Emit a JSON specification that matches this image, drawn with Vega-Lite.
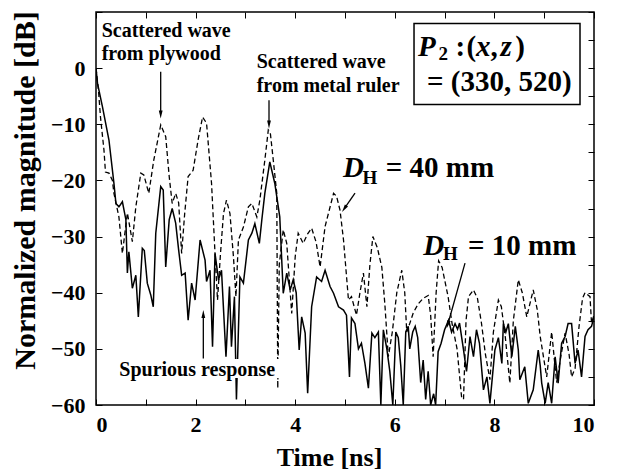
{
  "$schema": "https://vega.github.io/schema/vega-lite/v6.json",
  "width": 498,
  "height": 393,
  "autosize": {"type": "none"},
  "padding": {"left": 96, "top": 12, "right": 28, "bottom": 69},
  "background": "white",
  "config": {
    "view": {"stroke": "black", "strokeWidth": 1.5},
    "axis": {
      "domain": false,
      "grid": false,
      "tickColor": "black",
      "tickWidth": 1,
      "tickSize": -6,
      "labelFont": "Liberation Serif",
      "labelFontWeight": "bold",
      "labelFontSize": 22,
      "labelColor": "black",
      "titleFont": "Liberation Serif",
      "titleFontWeight": "bold",
      "titleColor": "black"
    }
  },
  "datasets": {
    "d40": [
      {"t": 0, "db": 0}, {"t": 0.05, "db": -4}, {"t": 0.09, "db": -8.7}, {"t": 0.16, "db": -14.6}, {"t": 0.19, "db": -18.5},
      {"t": 0.26, "db": -18.7}, {"t": 0.33, "db": -20}, {"t": 0.36, "db": -22.3}, {"t": 0.46, "db": -26.5}, {"t": 0.53, "db": -33},
      {"t": 0.63, "db": -25.8}, {"t": 0.73, "db": -30.9}, {"t": 0.8, "db": -24.7}, {"t": 0.9, "db": -18.7}, {"t": 0.96, "db": -19},
      {"t": 1.06, "db": -22.3}, {"t": 1.16, "db": -16.4}, {"t": 1.3, "db": -10.1}, {"t": 1.4, "db": -12.2}, {"t": 1.47, "db": -19.3},
      {"t": 1.53, "db": -24.1}, {"t": 1.6, "db": -22.3}, {"t": 1.66, "db": -24}, {"t": 1.72, "db": -33}, {"t": 1.78, "db": -26},
      {"t": 1.85, "db": -19.3}, {"t": 1.95, "db": -18.2}, {"t": 2.05, "db": -12.8}, {"t": 2.14, "db": -8.7}, {"t": 2.22, "db": -9.8},
      {"t": 2.32, "db": -20.5}, {"t": 2.39, "db": -33}, {"t": 2.44, "db": -41.3}, {"t": 2.5, "db": -33}, {"t": 2.56, "db": -25.9},
      {"t": 2.62, "db": -23.5}, {"t": 2.69, "db": -25.9}, {"t": 2.76, "db": -33.6}, {"t": 2.81, "db": -40.7}, {"t": 2.86, "db": -30.6},
      {"t": 2.96, "db": -28.3}, {"t": 3.06, "db": -24.7}, {"t": 3.13, "db": -24.1}, {"t": 3.23, "db": -26.5}, {"t": 3.29, "db": -23.5},
      {"t": 3.39, "db": -16.4}, {"t": 3.46, "db": -11}, {"t": 3.5, "db": -11.5}, {"t": 3.56, "db": -16.4}, {"t": 3.63, "db": -22.3},
      {"t": 3.65, "db": -57}, {"t": 3.68, "db": -35}, {"t": 3.76, "db": -28.8}, {"t": 3.83, "db": -31.2}, {"t": 3.93, "db": -43.7},
      {"t": 4.0, "db": -33.6}, {"t": 4.06, "db": -29.4}, {"t": 4.16, "db": -31.2}, {"t": 4.25, "db": -29.5}, {"t": 4.33, "db": -28.5},
      {"t": 4.42, "db": -31}, {"t": 4.5, "db": -35.4}, {"t": 4.6, "db": -28.2}, {"t": 4.77, "db": -22.3}, {"t": 4.83, "db": -22.8},
      {"t": 4.9, "db": -25.3}, {"t": 4.97, "db": -30.6}, {"t": 5.07, "db": -41.3}, {"t": 5.13, "db": -40.7}, {"t": 5.23, "db": -44},
      {"t": 5.3, "db": -40}, {"t": 5.37, "db": -36.5}, {"t": 5.44, "db": -42.5}, {"t": 5.5, "db": -35}, {"t": 5.56, "db": -30},
      {"t": 5.65, "db": -32}, {"t": 5.74, "db": -35.5}, {"t": 5.8, "db": -42}, {"t": 5.87, "db": -51.4}, {"t": 5.95, "db": -47},
      {"t": 6.04, "db": -40}, {"t": 6.14, "db": -36}, {"t": 6.2, "db": -40}, {"t": 6.24, "db": -47}, {"t": 6.3, "db": -45.5},
      {"t": 6.37, "db": -43.6}, {"t": 6.47, "db": -42}, {"t": 6.57, "db": -41}, {"t": 6.67, "db": -40.5}, {"t": 6.72, "db": -44},
      {"t": 6.77, "db": -51.4}, {"t": 6.83, "db": -40}, {"t": 6.88, "db": -34.3}, {"t": 6.95, "db": -35.5}, {"t": 7.07, "db": -40.7},
      {"t": 7.15, "db": -45.5}, {"t": 7.25, "db": -50}, {"t": 7.34, "db": -58.5}, {"t": 7.38, "db": -59}, {"t": 7.43, "db": -45},
      {"t": 7.48, "db": -40.7}, {"t": 7.58, "db": -39.5}, {"t": 7.66, "db": -41}, {"t": 7.74, "db": -45.4}, {"t": 7.82, "db": -51},
      {"t": 7.91, "db": -55.5}, {"t": 7.98, "db": -47}, {"t": 8.08, "db": -41.3}, {"t": 8.14, "db": -42.5}, {"t": 8.22, "db": -48},
      {"t": 8.31, "db": -56.1}, {"t": 8.38, "db": -45}, {"t": 8.48, "db": -37.7}, {"t": 8.56, "db": -40}, {"t": 8.65, "db": -44.3},
      {"t": 8.78, "db": -39.5}, {"t": 8.86, "db": -43}, {"t": 8.92, "db": -47.8}, {"t": 9.05, "db": -55}, {"t": 9.15, "db": -47},
      {"t": 9.25, "db": -56}, {"t": 9.34, "db": -51}, {"t": 9.42, "db": -47.2}, {"t": 9.5, "db": -51}, {"t": 9.55, "db": -55},
      {"t": 9.62, "db": -53.5}, {"t": 9.7, "db": -46}, {"t": 9.77, "db": -41}, {"t": 9.82, "db": -40}, {"t": 9.92, "db": -40.7},
      {"t": 9.95, "db": -45.4}, {"t": 10, "db": -44}
    ],
    "d10": [
      {"t": 0, "db": 0}, {"t": 0.03, "db": -2.7}, {"t": 0.13, "db": -6.9}, {"t": 0.26, "db": -12.8}, {"t": 0.36, "db": -20.5},
      {"t": 0.4, "db": -24.1}, {"t": 0.46, "db": -24.7}, {"t": 0.53, "db": -23.8}, {"t": 0.6, "db": -27}, {"t": 0.63, "db": -36.5},
      {"t": 0.66, "db": -32.7}, {"t": 0.73, "db": -39.2}, {"t": 0.8, "db": -36.9}, {"t": 0.85, "db": -44.3}, {"t": 0.93, "db": -32.1},
      {"t": 0.97, "db": -32.5}, {"t": 1.03, "db": -38.3}, {"t": 1.1, "db": -40.4}, {"t": 1.15, "db": -42.5}, {"t": 1.2, "db": -29.4},
      {"t": 1.3, "db": -21.1}, {"t": 1.35, "db": -21.7}, {"t": 1.4, "db": -35.4}, {"t": 1.47, "db": -27}, {"t": 1.53, "db": -25},
      {"t": 1.6, "db": -27.6}, {"t": 1.66, "db": -32.4}, {"t": 1.72, "db": -36.9}, {"t": 1.79, "db": -36.5}, {"t": 1.85, "db": -44.9},
      {"t": 1.92, "db": -38.3}, {"t": 1.99, "db": -41.3}, {"t": 2.09, "db": -30.6}, {"t": 2.19, "db": -34.2}, {"t": 2.22, "db": -38},
      {"t": 2.29, "db": -36}, {"t": 2.34, "db": -49.6}, {"t": 2.39, "db": -33}, {"t": 2.46, "db": -37.7}, {"t": 2.52, "db": -36},
      {"t": 2.61, "db": -51.4}, {"t": 2.68, "db": -38.9}, {"t": 2.72, "db": -49.6}, {"t": 2.78, "db": -40.7}, {"t": 2.82, "db": -59},
      {"t": 2.89, "db": -37.2}, {"t": 2.96, "db": -38.3}, {"t": 3.06, "db": -30.6}, {"t": 3.13, "db": -29.4}, {"t": 3.19, "db": -27.7},
      {"t": 3.28, "db": -31.2}, {"t": 3.33, "db": -27}, {"t": 3.39, "db": -22.3}, {"t": 3.49, "db": -16.7}, {"t": 3.59, "db": -20.5},
      {"t": 3.69, "db": -26.5}, {"t": 3.76, "db": -40.1}, {"t": 3.83, "db": -36.5}, {"t": 3.9, "db": -39.5}, {"t": 3.96, "db": -37.7},
      {"t": 4.02, "db": -40}, {"t": 4.08, "db": -50.2}, {"t": 4.13, "db": -44.3}, {"t": 4.2, "db": -47.2}, {"t": 4.25, "db": -57.9},
      {"t": 4.33, "db": -42.5}, {"t": 4.43, "db": -37.2}, {"t": 4.53, "db": -38}, {"t": 4.6, "db": -36}, {"t": 4.7, "db": -38.9},
      {"t": 4.77, "db": -40.1}, {"t": 4.87, "db": -42.5}, {"t": 4.97, "db": -43.1}, {"t": 5.03, "db": -44}, {"t": 5.09, "db": -55},
      {"t": 5.13, "db": -44.5}, {"t": 5.2, "db": -45.5}, {"t": 5.27, "db": -50}, {"t": 5.33, "db": -49}, {"t": 5.4, "db": -52.6},
      {"t": 5.47, "db": -57}, {"t": 5.54, "db": -47.2}, {"t": 5.6, "db": -48}, {"t": 5.67, "db": -47}, {"t": 5.72, "db": -60},
      {"t": 5.77, "db": -46.6}, {"t": 5.84, "db": -50}, {"t": 5.9, "db": -54}, {"t": 5.96, "db": -60}, {"t": 6.02, "db": -47},
      {"t": 6.07, "db": -48}, {"t": 6.12, "db": -53}, {"t": 6.17, "db": -60}, {"t": 6.22, "db": -47}, {"t": 6.27, "db": -46},
      {"t": 6.3, "db": -50}, {"t": 6.36, "db": -47}, {"t": 6.41, "db": -46}, {"t": 6.46, "db": -48}, {"t": 6.52, "db": -56},
      {"t": 6.57, "db": -52}, {"t": 6.62, "db": -59}, {"t": 6.67, "db": -54}, {"t": 6.72, "db": -60}, {"t": 6.78, "db": -58},
      {"t": 6.82, "db": -60}, {"t": 6.87, "db": -50.5}, {"t": 6.93, "db": -49}, {"t": 7.0, "db": -46.6}, {"t": 7.08, "db": -44.9},
      {"t": 7.14, "db": -47}, {"t": 7.21, "db": -45.5}, {"t": 7.26, "db": -46.5}, {"t": 7.3, "db": -45.4}, {"t": 7.38, "db": -50.2},
      {"t": 7.44, "db": -54}, {"t": 7.51, "db": -47.8}, {"t": 7.58, "db": -51.4}, {"t": 7.64, "db": -46.6}, {"t": 7.7, "db": -49},
      {"t": 7.78, "db": -57.3}, {"t": 7.85, "db": -55}, {"t": 7.91, "db": -59.7}, {"t": 8.01, "db": -50.2}, {"t": 8.08, "db": -48},
      {"t": 8.15, "db": -52.6}, {"t": 8.18, "db": -45.5}, {"t": 8.23, "db": -47}, {"t": 8.28, "db": -45.5}, {"t": 8.35, "db": -51.4},
      {"t": 8.42, "db": -46}, {"t": 8.48, "db": -50.2}, {"t": 8.51, "db": -55.5}, {"t": 8.61, "db": -53.2}, {"t": 8.68, "db": -59.7},
      {"t": 8.78, "db": -57.3}, {"t": 8.88, "db": -50.2}, {"t": 8.92, "db": -53}, {"t": 8.95, "db": -56.1}, {"t": 9.02, "db": -59.7},
      {"t": 9.08, "db": -56}, {"t": 9.15, "db": -59.7}, {"t": 9.22, "db": -51.4}, {"t": 9.28, "db": -56.1}, {"t": 9.35, "db": -49},
      {"t": 9.42, "db": -47.8}, {"t": 9.48, "db": -45.5}, {"t": 9.55, "db": -45.5}, {"t": 9.62, "db": -52.6}, {"t": 9.68, "db": -50.2},
      {"t": 9.75, "db": -55}, {"t": 9.82, "db": -47.8}, {"t": 9.88, "db": -46.6}, {"t": 9.95, "db": -46}, {"t": 10, "db": -44.3}
    ]
  },
  "layer": [
    {
      "data": {"values": [{"t": 6.386, "t2": 9.719, "db": 7.96, "db2": -6.46}]},
      "mark": {"type": "rect", "fill": "white", "stroke": "black", "strokeWidth": 1.5},
      "encoding": {
        "x": {"field": "t", "type": "quantitative", "scale": {"domain": [0, 10], "nice": false},
              "axis": {"orient": "top", "labels": false, "title": null, "values": [0,1,2,3,4,5,6,7,8,9,10]}},
        "x2": {"field": "t2"},
        "y": {"field": "db", "type": "quantitative", "scale": {"domain": [-60, 10], "nice": false},
              "axis": {"orient": "right", "labels": false, "title": null, "values": [-60,-55,-50,-45,-40,-35,-30,-25,-20,-15,-10,-5,0,5,10]}},
        "y2": {"field": "db2"}
      }
    },
    {
      "layer": [
        {
          "data": {"name": "d40"},
          "mark": {"type": "line", "color": "black", "strokeWidth": 1.3, "strokeDash": [5, 3], "clip": true},
          "encoding": {
            "x": {"field": "t", "type": "quantitative", "scale": {"domain": [0, 10], "nice": false},
                  "axis": {"orient": "bottom", "title": "Time [ns]", "values": [0,1,2,3,4,5,6,7,8,9,10],
                           "labelExpr": "datum.value % 2 == 0 ? datum.label : ''", "labelPadding": 15,
                           "titleFontSize": 26, "titleX": 233, "titleY": 60, "titleBaseline": "alphabetic", "titleAlign": "center"}},
            "y": {"field": "db", "type": "quantitative", "scale": {"domain": [-60, 10], "nice": false},
                  "axis": {"orient": "left", "title": "Normalized magnitude [dB]", "values": [-60,-55,-50,-45,-40,-35,-30,-25,-20,-15,-10,-5,0,5,10],
                           "labelExpr": "datum.value % 10 == 0 && datum.value < 10 ? datum.label : ''", "labelPadding": 17,
                           "titleFontSize": 30, "titleX": -62, "titleY": 178, "titleAngle": 270, "titleBaseline": "alphabetic", "titleAlign": "center"}}
          }
        },
        {
          "data": {"name": "d10"},
          "mark": {"type": "line", "color": "black", "strokeWidth": 1.5, "clip": true},
          "encoding": {
            "x": {"field": "t", "type": "quantitative"},
            "y": {"field": "db", "type": "quantitative"}
          }
        },
        {
          "data": {"values": [{"t": 0.42, "t2": 3.8, "db": -51.8, "db2": -55.2}]},
          "mark": {"type": "rect", "fill": "white"},
          "encoding": {
            "x": {"field": "t", "type": "quantitative"}, "x2": {"field": "t2"},
            "y": {"field": "db", "type": "quantitative"}, "y2": {"field": "db2"}
          }
        },
        {
          "data": {"values": [
            {"t": 0.114, "db": 5.57, "label": "Scattered wave"},
            {"t": 0.114, "db": 1.42, "label": "from plywood"},
            {"t": 3.227, "db": 0, "label": "Scattered wave"},
            {"t": 3.227, "db": -4.27, "label": "from metal ruler"},
            {"t": 0.468, "db": -54.83, "label": "Spurious response"}
          ]},
          "mark": {"type": "text", "font": "Liberation Serif", "fontWeight": "bold", "fontSize": 20, "align": "left", "baseline": "alphabetic", "color": "black"},
          "encoding": {
            "x": {"field": "t", "type": "quantitative"},
            "y": {"field": "db", "type": "quantitative"},
            "text": {"field": "label"}
          }
        },
        {
          "data": {"values": [
            {"t": 7.22, "db": 2.14, "label": ":"},
            {"t": 7.44, "db": 2.14, "label": "("},
            {"t": 7.92, "db": 2.14, "label": ","},
            {"t": 8.42, "db": 2.14, "label": ")"},
            {"t": 6.647, "db": -4.09, "label": "= (330, 520)"},
            {"t": 5.82, "db": -19.41, "label": "= 40 mm"},
            {"t": 7.47, "db": -33.29, "label": "= 10 mm"}
          ]},
          "mark": {"type": "text", "font": "Liberation Serif", "fontWeight": "bold", "fontSize": 29, "align": "left", "baseline": "alphabetic", "color": "black"},
          "encoding": {
            "x": {"field": "t", "type": "quantitative"},
            "y": {"field": "db", "type": "quantitative"},
            "text": {"field": "label"}
          }
        },
        {
          "data": {"values": [
            {"t": 6.466, "db": 2.14, "label": "P"},
            {"t": 7.63, "db": 2.14, "label": "x"},
            {"t": 8.12, "db": 2.14, "label": "z"},
            {"t": 4.96, "db": -19.41, "label": "D"},
            {"t": 6.572, "db": -33.29, "label": "D"}
          ]},
          "mark": {"type": "text", "font": "Liberation Serif", "fontWeight": "bold", "fontStyle": "italic", "fontSize": 29, "align": "left", "baseline": "alphabetic", "color": "black"},
          "encoding": {
            "x": {"field": "t", "type": "quantitative"},
            "y": {"field": "db", "type": "quantitative"},
            "text": {"field": "label"}
          }
        },
        {
          "data": {"values": [
            {"t": 6.88, "db": 1.42, "label": "2"},
            {"t": 5.35, "db": -20.65, "label": "H"},
            {"t": 6.97, "db": -34.18, "label": "H"}
          ]},
          "mark": {"type": "text", "font": "Liberation Serif", "fontWeight": "bold", "fontSize": 19, "align": "left", "baseline": "alphabetic", "color": "black"},
          "encoding": {
            "x": {"field": "t", "type": "quantitative"},
            "y": {"field": "db", "type": "quantitative"},
            "text": {"field": "label"}
          }
        },
        {
          "data": {"values": [
            {"t": 1.299, "db": -0.66, "t2": 1.299, "db2": -8.07},
            {"t": 3.474, "db": -5.7, "t2": 3.474, "db2": -9.85},
            {"t": 2.155, "db": -51.7, "t2": 2.155, "db2": -43.97},
            {"t": 5.201, "db": -22.25, "t2": 4.996, "db2": -24.9},
            {"t": 7.41, "db": -34.72, "t2": 7.07, "db2": -45.49}
          ]},
          "mark": {"type": "rule", "color": "black", "strokeWidth": 1.3},
          "encoding": {
            "x": {"field": "t", "type": "quantitative"}, "x2": {"field": "t2"},
            "y": {"field": "db", "type": "quantitative"}, "y2": {"field": "db2"}
          }
        },
        {
          "data": {"values": [{"t": 1.299, "db": -8.07}, {"t": 3.474, "db": -9.85}]},
          "mark": {"type": "point", "shape": "M0,-1L0.38,0.6L-0.38,0.6Z", "size": 100, "filled": true, "color": "black", "opacity": 1, "angle": 180},
          "encoding": {"x": {"field": "t", "type": "quantitative"}, "y": {"field": "db", "type": "quantitative"}}
        },
        {
          "data": {"values": [{"t": 2.155, "db": -43.97}]},
          "mark": {"type": "point", "shape": "M0,-1L0.38,0.6L-0.38,0.6Z", "size": 100, "filled": true, "color": "black", "opacity": 1, "angle": 0},
          "encoding": {"x": {"field": "t", "type": "quantitative"}, "y": {"field": "db", "type": "quantitative"}}
        },
        {
          "data": {"values": [{"t": 4.996, "db": -24.9}]},
          "mark": {"type": "point", "shape": "M0,-1L0.38,0.6L-0.38,0.6Z", "size": 100, "filled": true, "color": "black", "opacity": 1, "angle": 214},
          "encoding": {"x": {"field": "t", "type": "quantitative"}, "y": {"field": "db", "type": "quantitative"}}
        },
        {
          "data": {"values": [{"t": 7.07, "db": -45.49}]},
          "mark": {"type": "point", "shape": "M0,-1L0.38,0.6L-0.38,0.6Z", "size": 100, "filled": true, "color": "black", "opacity": 1, "angle": 196},
          "encoding": {"x": {"field": "t", "type": "quantitative"}, "y": {"field": "db", "type": "quantitative"}}
        }
      ]
    }
  ],
  "resolve": {"axis": {"x": "independent", "y": "independent"}}
}
